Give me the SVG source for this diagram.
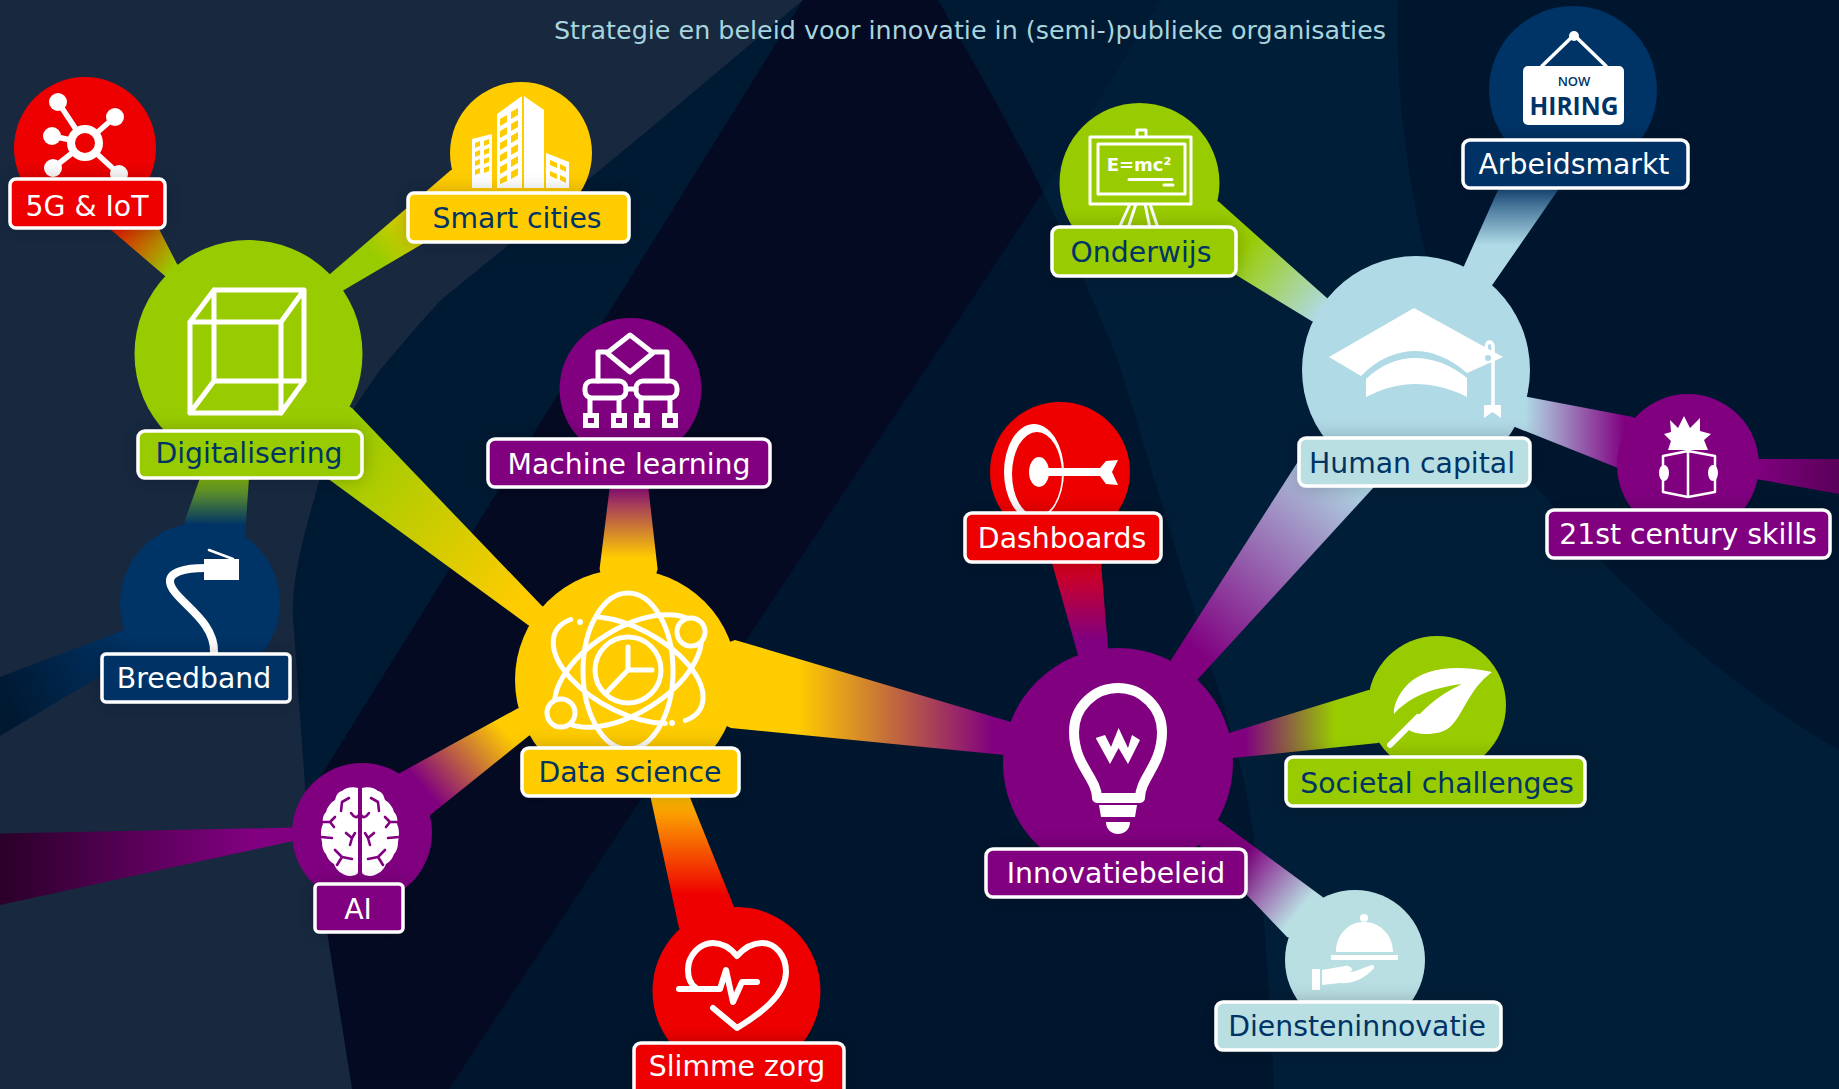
<svg xmlns="http://www.w3.org/2000/svg" width="1839" height="1089" viewBox="0 0 1839 1089">
<style>
.lb{stroke:#fff;stroke-width:3.5;filter:url(#sh)}
.t{font-family:"DejaVu Sans",sans-serif;font-size:28.300px;text-anchor:middle;transform:translateY(1px)}
.w{fill:#fff}.n{fill:#003366}
.red{fill:#ee0000}.yel{fill:#ffcc00}.grn{fill:#99cc00}.pur{fill:#800080}.nav{fill:#003366}.blu{fill:#b0dae6}.lbl{fill:#b9dfe3}
.s{fill:none;stroke:#fff;stroke-linecap:round;stroke-linejoin:round}
.v{fill:none;stroke:#800080;stroke-width:2.600;stroke-linecap:round;stroke-linejoin:round}
</style>
<defs>
<filter id="sh" x="-30%" y="-60%" width="160%" height="220%"><feDropShadow dx="0" dy="0" stdDeviation="9" flood-color="#000" flood-opacity="0.22"/></filter>
<linearGradient id="g1" gradientUnits="userSpaceOnUse" x1="108" y1="222" x2="172" y2="270"><stop offset="0" stop-color="#ee0000"/><stop offset="1" stop-color="#99cc00"/></linearGradient>
<linearGradient id="g2" gradientUnits="userSpaceOnUse" x1="430" y1="205" x2="375" y2="255"><stop offset="0" stop-color="#ffcc00"/><stop offset="1" stop-color="#99cc00"/></linearGradient>
<linearGradient id="g3" gradientUnits="userSpaceOnUse" x1="345" y1="445" x2="525" y2="600"><stop offset="0" stop-color="#99cc00"/><stop offset="1" stop-color="#ffcc00"/></linearGradient>
<linearGradient id="g4" gradientUnits="userSpaceOnUse" x1="0" y1="470" x2="0" y2="525"><stop offset="0" stop-color="#99cc00"/><stop offset="1" stop-color="#003366"/></linearGradient>
<linearGradient id="g5" gradientUnits="userSpaceOnUse" x1="130" y1="640" x2="0" y2="700"><stop offset="0" stop-color="#003366"/><stop offset="1" stop-color="#001830"/></linearGradient>
<linearGradient id="g6" gradientUnits="userSpaceOnUse" x1="250" y1="0" x2="0" y2="0"><stop offset="0" stop-color="#800080"/><stop offset="1" stop-color="#2a0028"/></linearGradient>
<linearGradient id="g7" gradientUnits="userSpaceOnUse" x1="500" y1="725" x2="425" y2="790"><stop offset="0" stop-color="#ffcc00"/><stop offset="1" stop-color="#800080"/></linearGradient>
<linearGradient id="g8" gradientUnits="userSpaceOnUse" x1="0" y1="482" x2="0" y2="558"><stop offset="0" stop-color="#800080"/><stop offset="1" stop-color="#ffcc00"/></linearGradient>
<linearGradient id="g9" gradientUnits="userSpaceOnUse" x1="0" y1="790" x2="0" y2="895"><stop offset="0" stop-color="#ffcc00"/><stop offset="1" stop-color="#ee0000"/></linearGradient>
<linearGradient id="g10" gradientUnits="userSpaceOnUse" x1="798" y1="0" x2="994" y2="0"><stop offset="0" stop-color="#ffcc00"/><stop offset="1" stop-color="#800080"/></linearGradient>
<linearGradient id="g11" gradientUnits="userSpaceOnUse" x1="0" y1="545" x2="0" y2="640"><stop offset="0" stop-color="#ee0000"/><stop offset="1" stop-color="#800080"/></linearGradient>
<linearGradient id="g12" gradientUnits="userSpaceOnUse" x1="1350" y1="470" x2="1195" y2="650"><stop offset="0" stop-color="#b0dae6"/><stop offset="1" stop-color="#800080"/></linearGradient>
<linearGradient id="g13" gradientUnits="userSpaceOnUse" x1="1245" y1="245" x2="1325" y2="310"><stop offset="0" stop-color="#99cc00"/><stop offset="1" stop-color="#b0dae6"/></linearGradient>
<linearGradient id="g14" gradientUnits="userSpaceOnUse" x1="0" y1="180" x2="0" y2="245"><stop offset="0" stop-color="#003366"/><stop offset="1" stop-color="#b0dae6"/></linearGradient>
<linearGradient id="g15" gradientUnits="userSpaceOnUse" x1="1525" y1="0" x2="1625" y2="0"><stop offset="0" stop-color="#b0dae6"/><stop offset="1" stop-color="#800080"/></linearGradient>
<linearGradient id="g16" gradientUnits="userSpaceOnUse" x1="1755" y1="0" x2="1860" y2="0"><stop offset="0" stop-color="#800080"/><stop offset="1" stop-color="#500050"/></linearGradient>
<linearGradient id="g17" gradientUnits="userSpaceOnUse" x1="1245" y1="0" x2="1335" y2="0"><stop offset="0" stop-color="#800080"/><stop offset="1" stop-color="#99cc00"/></linearGradient>
<linearGradient id="g18" gradientUnits="userSpaceOnUse" x1="1240" y1="860" x2="1300" y2="910"><stop offset="0" stop-color="#800080"/><stop offset="1" stop-color="#b9dfe3"/></linearGradient>
</defs>

<g id="background">
<rect width="1839" height="1089" fill="#001a33"/>
<path d="M1160,0L1398,0C1395,100 1410,190 1427,259C1450,350 1490,420 1532,481C1620,590 1720,680 1839,750L1839,1089L1274,1089C1268,950 1260,860 1245,787C1235,740 1222,700 1212,670L1120,367C1100,315 1075,260 1043,192Z" fill="#011e38"/>
<path d="M1398,0L1839,0L1839,750C1720,680 1620,590 1532,481C1490,420 1450,350 1427,259C1410,190 1395,100 1398,0Z" fill="#00162f"/>
<path d="M449,1089L1043,192C1075,260 1100,315 1120,367L1212,670C1222,700 1235,740 1245,787C1260,860 1268,950 1274,1089Z" fill="#00162e"/>
<path d="M803,0L938,0C975,65 1010,125 1043,192L449,1089L352,1089L306,800Z" fill="#040a22"/>
<path d="M0,0L803,0L640,137L506,247L441,300L420,323L380,370C340,425 322,465 314,500C296,560 290,600 294,631L306,800L352,1089L0,1089Z" fill="#17283f"/>
</g>

<text x="970" y="38" class="t" style="font-size:25.400px;fill:#a8d4de">Strategie en beleid voor innovatie in (semi-)publieke organisaties</text>

<g id="connectors">
<polygon fill="url(#g1)" points="110,229 165,276 248,354 177,264 159,229 85,148"/>
<polygon fill="url(#g2)" points="451,170 330,274 248,354 344,290 424,243 521,153"/>
<polygon fill="url(#g3)" points="352,408 541,605 626,680 528,625 327,478 248,354"/>
<polygon fill="url(#g4)" points="200,478 184,523 200,603 245,536 249,478 248,354"/>
<polygon fill="url(#g5)" points="124,630 0,677 0,736 102,675 200,603"/>
<polygon fill="url(#g6)" points="292,827.600 0,833.600 0,905 293,841 362,833"/>
<polygon fill="url(#g7)" points="517.500,708.500 399,773.500 362,833 429,816 528.600,736 626,680"/>
<polygon fill="url(#g8)" points="599.600,569 610,485 630,389 648,485 657.600,569 626,680"/>
<polygon fill="url(#g9)" points="649,790 679,928 736,991 734,907 687,790 626,680"/>
<polygon fill="url(#g10)" points="735,640 1011,722 1118,763 1004.500,755 731,728 626,680"/>
<polygon fill="url(#g11)" points="1052,563 1078,655 1118,763 1108,648 1101,563 1060,472"/>
<polygon fill="url(#g12)" points="1171,660 1299,460 1416,370 1374,487 1198,679 1118,763"/>
<polygon fill="url(#g13)" points="1218.500,201.600 1327,298 1416,370 1311.500,321 1237,275.600 1139,183"/>
<polygon fill="url(#g14)" points="1498,190 1464,266 1416,370 1493,284 1558,190 1573,90"/>
<polygon fill="url(#g15)" points="1528,397 1633,417 1688,465 1618,468 1515,427 1416,370"/>
<polygon fill="url(#g16)" points="1758,459 1839,459 1839,494 1756.500,479 1688,465"/>
<polygon fill="url(#g17)" points="1229,733 1368.500,690 1437,705 1378,743 1233,758 1118,763"/>
<polygon fill="url(#g18)" points="1218,820 1322.600,897 1355,960 1287,937 1199,845 1118,763"/>
</g>

<g id="node-5g">
<circle class="red" cx="85" cy="148" r="71"/>
<path class="s" stroke-width="5.500" d="M85,143L58,102M85,143L115,117M85,143L52,136M85,143L53,168M85,143L119,174"/>
<circle class="w" cx="58" cy="102" r="9"/><circle class="w" cx="115" cy="117" r="9"/><circle class="w" cx="52" cy="136" r="9"/><circle class="w" cx="53" cy="168" r="9"/><circle class="w" cx="119" cy="174" r="9"/>
<circle class="red" cx="85" cy="143" r="14" stroke="#fff" stroke-width="8"/>
<rect class="lb red" x="10" y="179" width="155" height="49" rx="6"/><text class="t w" x="87" y="215">5G &amp; IoT</text>
</g>

<g id="node-smart-cities">
<circle class="yel" cx="521" cy="153" r="71"/>
<path class="w" d="M497,114L522,96L522,188L497,188ZM524,96L544,110L544,188L524,188ZM472,139L492,134L492,188L472,188ZM546,153L569,162L569,188L546,188Z"/>
<path fill="#ffcc00" d="M500,119l7,-4v7l-7,4zM511,112l7,-4v7l-7,4zM500,131l7,-4v7l-7,4zM511,124l7,-4v7l-7,4zM500,143l7,-4v7l-7,4zM511,136l7,-4v7l-7,4zM500,155l7,-4v7l-7,4zM511,148l7,-4v7l-7,4zM500,167l7,-4v7l-7,4zM511,160l7,-4v7l-7,4zM500,179l7,-4v6l-7,3zM511,172l7,-4v7l-7,4zM475,143l5,-2v5l-5,2zM484,141l5,-2v5l-5,2zM475,152l5,-2v5l-5,2zM484,150l5,-2v5l-5,2zM475,161l5,-2v5l-5,2zM484,159l5,-2v5l-5,2zM475,170l5,-2v5l-5,2zM484,168l5,-2v5l-5,2zM550,160l7,3v5l-7,-3zM560,164l6,3v5l-6,-3zM550,171l7,3v5l-7,-3zM560,175l6,3v5l-6,-3z"/>
<rect class="lb yel" x="408" y="193" width="221" height="49" rx="6"/><text class="t n" x="517" y="227">Smart cities</text>
</g>

<g id="node-digitalisering">
<circle class="grn" cx="248.500" cy="354" r="114"/>
<path class="s" stroke-width="5" d="M190,322H281V413H190ZM214,290H304V381H214ZM190,322L214,290M281,322L304,290M281,413L304,381M190,413L214,381"/>
<rect class="lb grn" x="138" y="431" width="224" height="47" rx="7"/><text class="t n" x="249" y="462">Digitalisering</text>
</g>

<g id="node-machine-learning">
<circle class="pur" cx="630.500" cy="389" r="71"/>
<path class="s" stroke-width="5" d="M630,335L653,353L630,372L607,353ZM607,352H598V381M653,352H667V381M626,389H636M590,398V414M619,398V414M641,398V414M670,398V414"/>
<rect x="585" y="381" width="41" height="17" rx="7" class="s" stroke-width="5"/><rect x="636" y="381" width="41" height="17" rx="7" class="s" stroke-width="5"/>
<path class="w" d="M583,413h16v15h-16zM611,413h16v15h-16zM634,413h16v15h-16zM662,413h16v15h-16z"/>
<path fill="#800080" d="M588,418h6v5h-6zM616,418h6v5h-6zM639,418h6v5h-6zM667,418h6v5h-6z"/>
<rect class="lb pur" x="488" y="439" width="282" height="48" rx="7"/><text class="t w" x="629" y="473">Machine learning</text>
</g>

<g id="node-data-science">
<circle class="yel" cx="626" cy="680" r="111"/>
<g class="s" stroke-width="5">
<ellipse cx="628" cy="671" rx="45" ry="78"/>
<ellipse cx="628" cy="671" rx="82" ry="42" transform="rotate(-32 628 671)"/>
<path d="M570.700,619.500A82,42 28 0 0 665.300,723.400M598.900,617A82,42 28 0 1 685.300,720.500"/>
<circle cx="628" cy="670" r="33"/>
<path d="M628,647V670H652M628,670L607,692"/>
</g>
<circle class="yel" cx="691" cy="632" r="14" stroke="#fff" stroke-width="5"/><circle class="yel" cx="561" cy="713" r="14" stroke="#fff" stroke-width="5"/>
<circle class="w" cx="580" cy="622" r="3"/><circle class="w" cx="672" cy="723" r="3"/>
<rect class="lb yel" x="522" y="748" width="217" height="48" rx="7"/><text class="t n" x="630" y="781">Data science</text>
</g>

<g id="node-breedband">
<circle class="nav" cx="200" cy="603" r="80"/>
<path class="s" stroke-width="8" d="M205,568C185,568 169,572 170,582C172,600 215,618 214,652"/>
<path class="w" d="M204,559H239V580H204Z"/>
<path class="s" stroke-width="2.500" d="M209,550L233,559"/>
<rect class="lb nav" x="102" y="654" width="188" height="48" rx="4"/><text class="t w" x="194" y="687">Breedband</text>
</g>

<g id="node-ai">
<circle class="pur" cx="362" cy="833" r="70"/>
<g id="brain-left">
<path class="w" d="M358,788C352,786 345,788 342,791C337,792 336,797 335,800C330,803 327,808 326,812C323,815 322,820 323,824C320,830 321,838 322,842C322,848 324,852 326,854C328,860 331,862 334,864C336,870 342,875 349,876C353,876 358,875 358,872Z"/>
<path class="v" d="M349,798L342,802L341,811M351,813Q356,820 359,815M322,822L330,822L335,817M330,822L334,827M321,837L332,838M346,833L352,838L355,833M352,838L350,845M335,850L342,857L352,859M342,857L337,865"/>
</g>
<use href="#brain-left" transform="translate(720 0) scale(-1 1)"/>
<rect class="lb pur" x="315" y="884" width="88" height="48" rx="4"/><text class="t w" x="358" y="918">AI</text>
</g>

<g id="node-slimme-zorg">
<circle class="red" cx="736.500" cy="991" r="84"/>
<path class="s" stroke-width="6" d="M696,988C690,984 688,977 688,970C688,955 700,943 713,943C725,943 732,950 737,956C745,947 752,943 762,943C776,943 786,956 786,972C786,995 760,1014 737,1028L713,1008"/>
<path class="s" stroke-width="6" d="M679,989H720L726,970L733,1002L742,982H757"/>
<rect class="lb red" x="634" y="1043" width="210" height="60" rx="7"/><text class="t w" x="737" y="1075">Slimme zorg</text>
</g>

<g id="node-dashboards">
<circle class="red" cx="1060" cy="472" r="70"/>
<path class="w" fill-rule="evenodd" d="M1004,472a30,48 0 1,0 60,0a30,48 0 1,0 -60,0ZM1012,474a25,42 0 1,0 50,0a25,42 0 1,0 -50,0Z"/>
<ellipse class="w" cx="1039" cy="472" rx="10" ry="15"/>
<path class="w" d="M1039,468H1100L1106,461L1118,460L1112,472L1118,485L1106,484L1100,476H1039Z"/>
<rect class="lb red" x="965" y="513" width="196" height="49" rx="7"/><text class="t w" x="1062" y="547">Dashboards</text>
</g>

<g id="node-innovatiebeleid">
<circle class="pur" cx="1118" cy="763" r="115"/>
<path class="s" stroke-width="10" stroke-linecap="butt" d="M1097,798C1097,778 1074,765 1074,732A44,44 0 1,1 1162,732C1162,765 1140,778 1140,798Z"/>
<path class="w" d="M1099,805H1137L1135,817H1101ZM1106,822H1130C1130,830 1124,834 1118,834C1112,834 1106,830 1106,822ZM1095.700,738L1105,735L1111,747L1118.600,728L1128,748L1132,735L1140,740L1128,764L1118.600,748L1110,764Z"/>
<rect class="lb pur" x="986" y="849" width="260" height="48" rx="7"/><text class="t w" x="1116" y="882">Innovatiebeleid</text>
</g>

<g id="node-societal-challenges">
<circle class="grn" cx="1437" cy="705" r="69"/>
<path class="w" d="M1492,672C1455,664 1425,668 1408,684C1397,695 1393,708 1394,714C1408,698 1430,688 1462,684C1436,696 1420,712 1407,729C1415,735 1438,737 1450,727C1464,714 1468,690 1492,672Z"/>
<path class="s" stroke-width="6" d="M1418,717L1390,745"/>
<rect class="lb grn" x="1286" y="757" width="299" height="49" rx="7"/><text class="t n" x="1437" y="792">Societal challenges</text>
</g>

<g id="node-diensteninnovatie">
<circle class="lbl" cx="1355" cy="960" r="70"/>
<path class="w" d="M1336,952C1336,935 1348,922 1364,922C1380,922 1393,935 1393,952ZM1331,955H1398V960H1331ZM1312,969H1320V990L1312,990ZM1322,970L1345,966C1350,965 1355,970 1350,972C1356,972 1365,967 1372,965C1376,966 1374,969 1370,972C1362,980 1350,984 1340,983L1322,985Z"/>
<circle class="w" cx="1364" cy="918" r="4"/>
<rect class="lb lbl" x="1216" y="1002" width="285" height="48" rx="7"/><text class="t n" x="1357" y="1035">Diensteninnovatie</text>
</g>

<g id="node-onderwijs">
<circle class="grn" cx="1139.500" cy="183" r="80"/>
<path class="s" stroke-width="3" stroke-linecap="butt" stroke-linejoin="miter" d="M1090,137H1191V204H1090ZM1098,144H1185V194H1098ZM1137,137V130H1146V137M1130,204L1119,228M1136,204L1128,228M1145,204L1150,228M1150,204L1158,228M1129,179.500H1172M1164,185H1173"/>
<text class="w" x="1139" y="171" style="font-family:'DejaVu Sans',sans-serif;font-weight:bold;font-size:18px;text-anchor:middle">E=mc²</text>
<rect class="lb grn" x="1052" y="227" width="184" height="49" rx="7"/><text class="t n" x="1141" y="261">Onderwijs</text>
</g>

<g id="node-arbeidsmarkt">
<circle class="nav" cx="1573" cy="90" r="84"/>
<path class="s" stroke-width="3.500" d="M1542,66L1574,35L1606,66"/>
<circle class="w" cx="1574" cy="36" r="5"/>
<rect class="w" x="1523" y="66" width="101" height="59" rx="5"/>
<text x="1574" y="86" style="font-family:'Open Sans',sans-serif;font-weight:600;font-size:13px;text-anchor:middle;fill:#003366">NOW</text>
<text x="1574" y="115" style="font-family:'Open Sans',sans-serif;font-weight:700;font-size:24.500px;text-anchor:middle;fill:#003366">HIRING</text>
<rect class="lb nav" x="1463" y="140" width="225" height="48" rx="7"/><text class="t w" x="1574" y="173">Arbeidsmarkt</text>
</g>

<g id="node-human-capital">
<circle class="blu" cx="1416" cy="370" r="114"/>
<path class="w" d="M1414,308L1503,357L1467,373C1450,358 1432,351 1415,351C1398,351 1378,358 1361,376L1329,357ZM1366,379C1382,364 1398,358 1415,358C1432,358 1450,364 1467,378V397C1450,388 1432,384 1415,384C1398,384 1382,389 1366,397Z"/>
<path class="s" stroke-width="3.500" d="M1486,350C1486,340 1492,340 1493,346V405"/>
<path class="w" d="M1484,405H1501V418L1492.500,412L1484,418Z"/><circle cx="1488" cy="358" r="4" fill="#b0dae6" stroke="#fff" stroke-width="2"/>
<rect class="lb lbl" x="1299" y="438" width="231" height="48" rx="7"/><text class="t n" x="1412" y="472">Human capital</text>
</g>

<g id="node-21st-century-skills">
<circle class="pur" cx="1688" cy="465" r="71"/>
<path class="w" d="M1664,434L1671,432L1670,420L1678,428L1684,416L1690,428L1700,418L1700,431L1711,434L1704,440L1708,450H1668L1671,441Z"/>
<path class="s" stroke-width="2.500" d="M1663,456L1688,451L1715,456V492L1688,497L1663,492ZM1688,451V497"/>
<ellipse class="w" cx="1664" cy="473" rx="5" ry="8"/><ellipse class="w" cx="1713" cy="473" rx="5" ry="8"/>
<rect class="lb pur" x="1547" y="510" width="283" height="48" rx="7"/><text class="t w" x="1688" y="543">21st century skills</text>
</g>
</svg>
